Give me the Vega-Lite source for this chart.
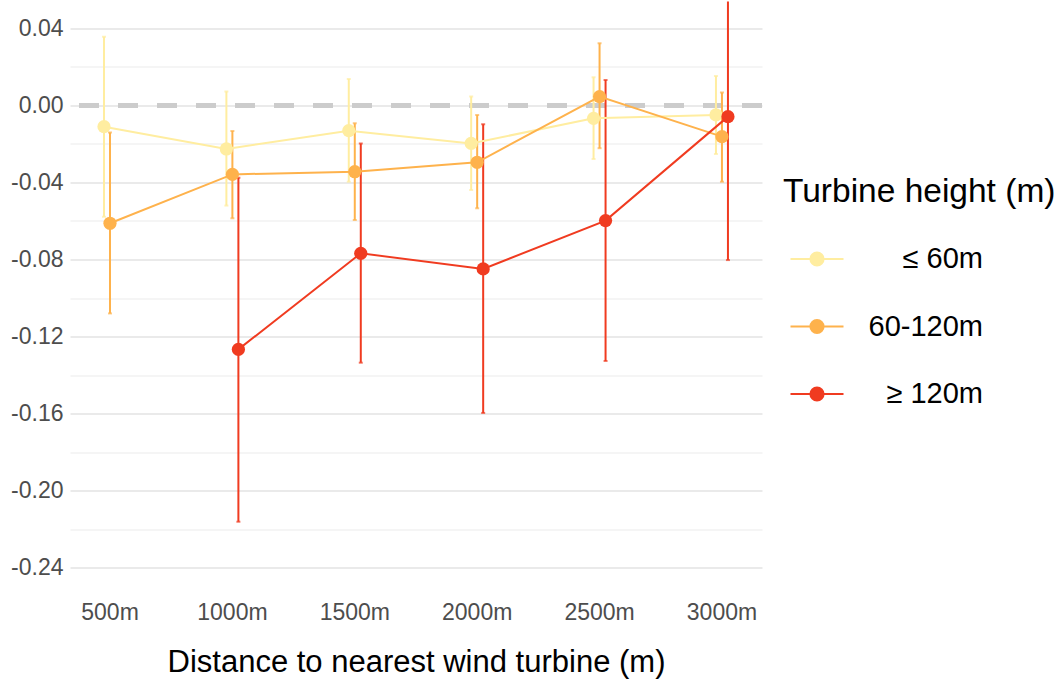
{
  "$schema": "https://vega.github.io/schema/vega-lite/v6.json",
  "width": 692,
  "height": 593,
  "autosize": "none",
  "padding": {"left": 70, "top": 1.5, "right": 300, "bottom": 91.5},
  "background": "white",
  "config": {
    "font": "Liberation Sans",
    "view": {"stroke": null}
  },
  "data": {
    "values": [
      {"distance": "500m", "height": "≤ 60m", "est": -0.011, "lo": -0.0578, "hi": 0.0357},
      {"distance": "1000m", "height": "≤ 60m", "est": -0.0226, "lo": -0.052, "hi": 0.0072},
      {"distance": "1500m", "height": "≤ 60m", "est": -0.0131, "lo": -0.0396, "hi": 0.0138},
      {"distance": "2000m", "height": "≤ 60m", "est": -0.0197, "lo": -0.0439, "hi": 0.0046},
      {"distance": "2500m", "height": "≤ 60m", "est": -0.0067, "lo": -0.0278, "hi": 0.0146},
      {"distance": "3000m", "height": "≤ 60m", "est": -0.0049, "lo": -0.0252, "hi": 0.0153},
      {"distance": "500m", "height": "60-120m", "est": -0.0612, "lo": -0.108, "hi": -0.0141},
      {"distance": "1000m", "height": "60-120m", "est": -0.0358, "lo": -0.0586, "hi": -0.0132},
      {"distance": "1500m", "height": "60-120m", "est": -0.0344, "lo": -0.0595, "hi": -0.0093},
      {"distance": "2000m", "height": "60-120m", "est": -0.0295, "lo": -0.0534, "hi": -0.0049},
      {"distance": "2500m", "height": "60-120m", "est": 0.0046, "lo": -0.0222, "hi": 0.0323},
      {"distance": "3000m", "height": "60-120m", "est": -0.0162, "lo": -0.0396, "hi": 0.0068},
      {"distance": "1000m", "height": "≥ 120m", "est": -0.1267, "lo": -0.2162, "hi": -0.0375},
      {"distance": "1500m", "height": "≥ 120m", "est": -0.0768, "lo": -0.1336, "hi": -0.0197},
      {"distance": "2000m", "height": "≥ 120m", "est": -0.0849, "lo": -0.1597, "hi": -0.0098},
      {"distance": "2500m", "height": "≥ 120m", "est": -0.0598, "lo": -0.1327, "hi": 0.0132},
      {"distance": "3000m", "height": "≥ 120m", "est": -0.0058, "lo": -0.0803, "hi": 0.0687}
    ]
  },
  "layer": [
    {
      "mark": {"type": "rule", "strokeDash": [20, 19], "strokeWidth": 4.5, "color": "#CCCCCC"},
      "encoding": {
        "y": {
          "datum": 0,
          "type": "quantitative",
          "scale": {"domain": [-0.254, 0.054], "nice": false, "zero": false},
          "axis": {
            "values": [-0.24, -0.22, -0.2, -0.18, -0.16, -0.14, -0.12, -0.1, -0.08, -0.06, -0.04, -0.02, 0, 0.02, 0.04],
            "labelExpr": "abs(round(datum.value * 100)) % 4 == 0 ? replace(format(datum.value, '.2f'), '\u2212', '-') : ''",
            "grid": true,
            "gridColor": {"condition": {"test": "abs(round(datum.value * 100)) % 4 == 0", "value": "#D6D6D6"}, "value": "#EBEBEB"},
            "gridWidth": 1.2,
            "domain": false,
            "ticks": false,
            "labelFontSize": 23,
            "labelColor": "#4D4D4D",
            "labelPadding": 7,
            "title": null
          }
        }
      }
    },
    {
      "mark": {"type": "rule", "strokeWidth": 2, "clip": true},
      "encoding": {
        "x": {
          "field": "distance",
          "type": "ordinal",
          "sort": ["500m", "1000m", "1500m", "2000m", "2500m", "3000m"],
          "scale": {"type": "band", "paddingInner": 0.346, "paddingOuter": 0},
          "axis": {
            "domain": false,
            "ticks": false,
            "grid": false,
            "labelAngle": 0,
            "labelFontSize": 23,
            "labelColor": "#4D4D4D",
            "labelPadding": 7,
            "title": "Distance to nearest wind turbine (m)",
            "titleFontSize": 31,
            "titleFontWeight": "normal",
            "titleColor": "black",
            "titlePadding": 23
          }
        },
        "xOffset": {"field": "height", "type": "nominal", "scale": {"type": "point", "padding": 0, "domain": ["≤ 60m", "60-120m", "≥ 120m"], "range": [34, 46]}},
        "y": {"field": "lo", "type": "quantitative"},
        "y2": {"field": "hi"},
        "color": {"field": "height", "type": "nominal"}
      }
    },
    {
      "mark": {"type": "tick", "orient": "horizontal", "size": 4, "thickness": 2},
      "encoding": {
        "x": {"field": "distance", "type": "ordinal", "sort": ["500m", "1000m", "1500m", "2000m", "2500m", "3000m"]},
        "xOffset": {"field": "height", "type": "nominal"},
        "y": {"field": "lo", "type": "quantitative"},
        "color": {"field": "height", "type": "nominal"}
      }
    },
    {
      "mark": {"type": "tick", "orient": "horizontal", "size": 4, "thickness": 2, "clip": true},
      "encoding": {
        "x": {"field": "distance", "type": "ordinal", "sort": ["500m", "1000m", "1500m", "2000m", "2500m", "3000m"]},
        "xOffset": {"field": "height", "type": "nominal"},
        "y": {"field": "hi", "type": "quantitative"},
        "color": {"field": "height", "type": "nominal"}
      }
    },
    {
      "mark": {"type": "line", "strokeWidth": 2},
      "encoding": {
        "x": {"field": "distance", "type": "ordinal", "sort": ["500m", "1000m", "1500m", "2000m", "2500m", "3000m"]},
        "xOffset": {"field": "height", "type": "nominal"},
        "y": {"field": "est", "type": "quantitative"},
        "color": {"field": "height", "type": "nominal"}
      }
    },
    {
      "mark": {"type": "point", "filled": true, "size": 175, "opacity": 1},
      "encoding": {
        "x": {"field": "distance", "type": "ordinal", "sort": ["500m", "1000m", "1500m", "2000m", "2500m", "3000m"]},
        "xOffset": {"field": "height", "type": "nominal"},
        "y": {"field": "est", "type": "quantitative"},
        "color": {
          "field": "height",
          "type": "nominal",
          "scale": {"domain": ["≤ 60m", "60-120m", "≥ 120m"], "range": ["#FFEDA0", "#FEB24C", "#F03B20"]},
          "legend": {
            "title": "Turbine height (m)",
            "orient": "none",
            "legendX": 713,
            "legendY": 174,
            "padding": 0,
            "titleFontSize": 33.5,
            "titleFontWeight": "normal",
            "titleColor": "black",
            "titleLimit": 400,
            "titlePadding": 22,
            "labelFontSize": 29,
            "labelColor": "black",
            "labelAlign": "right",
            "labelOffset": 138,
            "labelLimit": 400,
            "symbolType": "M-1,0L1,0M0.245,0A0.245,0.245,0,1,1,-0.245,0A0.245,0.245,0,1,1,0.245,0Z",
            "symbolSize": 2809,
            "symbolStrokeWidth": 2.2,
            "symbolOffset": 6,
            "symbolOpacity": 1,
            "rowPadding": 24.5,
            "encode": {
              "symbols": {
                "update": {
                  "fill": {"scale": "color", "field": "value"},
                  "stroke": {"scale": "color", "field": "value"},
                  "strokeWidth": {"value": 2.2},
                  "opacity": {"value": 1},
                  "fillOpacity": {"value": 1},
                  "strokeOpacity": {"value": 1}
                }
              }
            }
          }
        }
      }
    }
  ]
}
